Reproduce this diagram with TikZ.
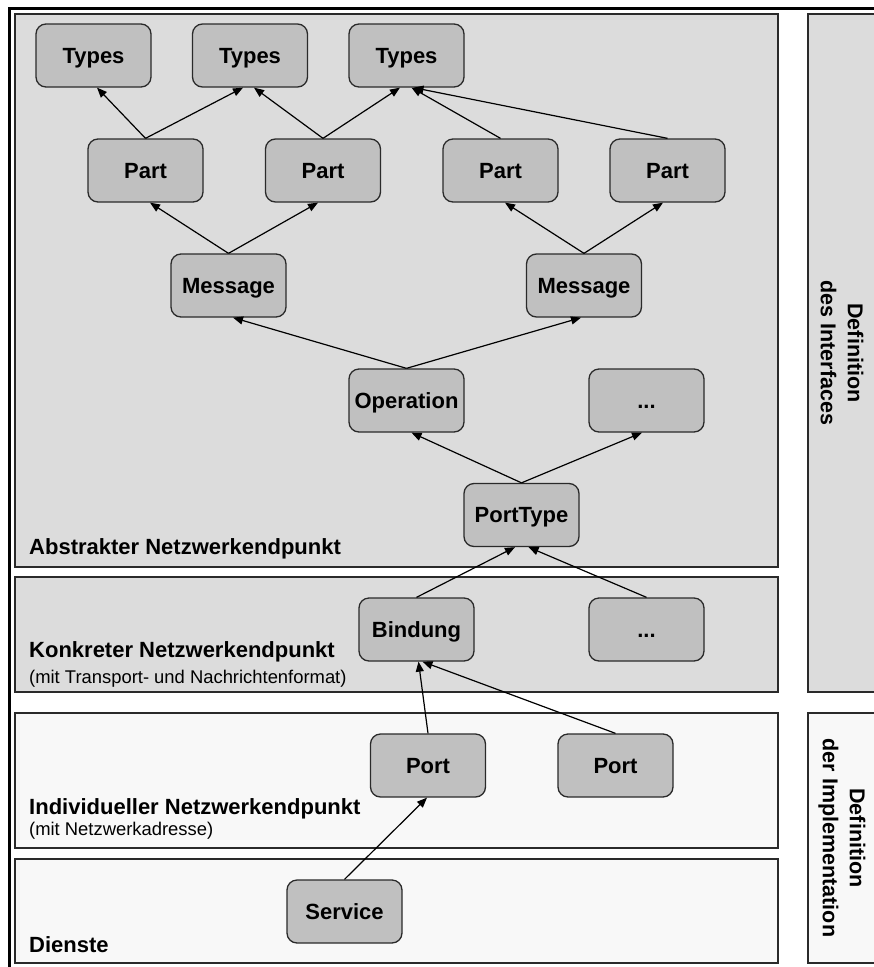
\documentclass[tikz,border=0pt]{standalone}
\usepackage{fontspec}
\setmainfont{Liberation Sans}
\usetikzlibrary{arrows.meta}
\definecolor{panelgray}{HTML}{DCDCDC}
\definecolor{panellight}{HTML}{F8F8F8}
\definecolor{nodegray}{HTML}{C0C0C0}
\definecolor{edgedark}{HTML}{2A2A2A}
\begin{document}
\begin{tikzpicture}[x=1pt,y=-1pt,
  panel/.style={draw=edgedark, line width=1.3pt},
  elem/.style={draw=edgedark, fill=nodegray, rounded corners=10pt, line width=1.3pt,
    minimum width=115pt, minimum height=63pt, inner sep=0pt,
    font=\fontsize{22}{26}\selectfont\bfseries, text height=15.8pt, text depth=0pt},
  arr/.style={-{Triangle[length=10pt,width=8pt]}, line width=1.2pt},
  layer/.style={anchor=base west, inner sep=0pt, font=\fontsize{22}{26}\selectfont\bfseries},
  note/.style={anchor=base west, inner sep=0pt, font=\fontsize{18.4}{22}\selectfont},
  side/.style={rotate=-90, align=center, inner sep=0pt, font=\fontsize{21.5}{27}\selectfont\bfseries}]
\useasboundingbox (0,0) rectangle (874,967);
\clip (0,0) rectangle (874,967);

% outer frame (runs past the right and bottom edges)
\draw[line width=2.8pt] (9.3,8.5) rectangle (890,985);

% layer panels
\draw[panel, fill=panelgray]  (15,14)  rectangle (778,567);
\draw[panel, fill=panelgray]  (15,577) rectangle (778,692);
\draw[panel, fill=panellight] (15,713) rectangle (778,848);
\draw[panel, fill=panellight] (15,859) rectangle (778,963);
\draw[panel, fill=panelgray]  (808,14)  rectangle (900,692);
\draw[panel, fill=panellight] (808,713) rectangle (900,963);

% layer captions
\node[layer] (labAbs) at (29,554) {Abstrakter Netzwerkendpunkt};
\node[layer] (labKon) at (29,657) {Konkreter Netzwerkendpunkt};
\node[note]  (subKon) at (29,683) {(mit Transport- und Nachrichtenformat)};
\node[layer] (labInd) at (29,814) {Individueller Netzwerkendpunkt};
\node[note]  (subInd) at (29,835) {(mit Netzwerkadresse)};
\node[layer] (labDie) at (29,952) {Dienste};

% side captions
\node[side] (sideIf)  at (842,353) {Definition\\des Interfaces};
\node[side] (sideImp) at (842,838) {Definition\\der Implementation};

% elements
\node[elem] (t1) at (93.5,55.5)  {Types};
\node[elem] (t2) at (250,55.5)   {Types};
\node[elem] (t3) at (406.5,55.5) {Types};
\node[elem] (p1) at (145.5,170.5) {Part};
\node[elem] (p2) at (323,170.5)   {Part};
\node[elem] (p3) at (500.5,170.5) {Part};
\node[elem] (p4) at (667.5,170.5) {Part};
\node[elem] (m1) at (228.5,285.5) {Message};
\node[elem] (m2) at (584,285.5)   {Message};
\node[elem] (op) at (406.5,400.5) {Operation};
\node[elem] (d1) at (646.5,400.5) {...};
\node[elem] (pt) at (521.5,515)   {PortType};
\node[elem] (bd) at (416.5,629.5) {Bindung};
\node[elem] (d2) at (646.5,629.5) {...};
\node[elem] (po1) at (428,765.5)  {Port};
\node[elem] (po2) at (615.5,765.5) {Port};
\node[elem] (sv) at (344.5,911.5) {Service};

% references
\draw[arr] (p1.north) -- ([xshift=3.5pt]t1.south);
\draw[arr] (p1.north) -- ([xshift=-7pt]t2.south);
\draw[arr] (p2.north) -- ([xshift=4pt]t2.south);
\draw[arr] (p2.north) -- ([xshift=-6.5pt]t3.south);
\draw[arr] (p3.north) -- ([xshift=5pt]t3.south);
\draw[arr] (p4.north) -- ([xshift=7pt]t3.south);
\draw[arr] (m1.north) -- ([xshift=4.5pt]p1.south);
\draw[arr] (m1.north) -- ([xshift=-5pt]p2.south);
\draw[arr] (m2.north) -- ([xshift=4.5pt]p3.south);
\draw[arr] (m2.north) -- ([xshift=-4.5pt]p4.south);
\draw[arr] (op.north) -- ([xshift=4.5pt]m1.south);
\draw[arr] (op.north) -- ([xshift=-3pt]m2.south);
\draw[arr] (pt.north) -- ([xshift=5pt]op.south);
\draw[arr] (pt.north) -- ([xshift=-4.5pt]d1.south);
\draw[arr] (bd.north) -- ([xshift=-6.5pt]pt.south);
\draw[arr] (d2.north) -- ([xshift=7pt]pt.south);
\draw[arr] (po1.north) -- ([xshift=2pt]bd.south);
\draw[arr] (po2.north) -- ([xshift=6pt]bd.south);
\draw[arr] (sv.north) -- ([xshift=-1pt]po1.south);
\end{tikzpicture}
\end{document}
